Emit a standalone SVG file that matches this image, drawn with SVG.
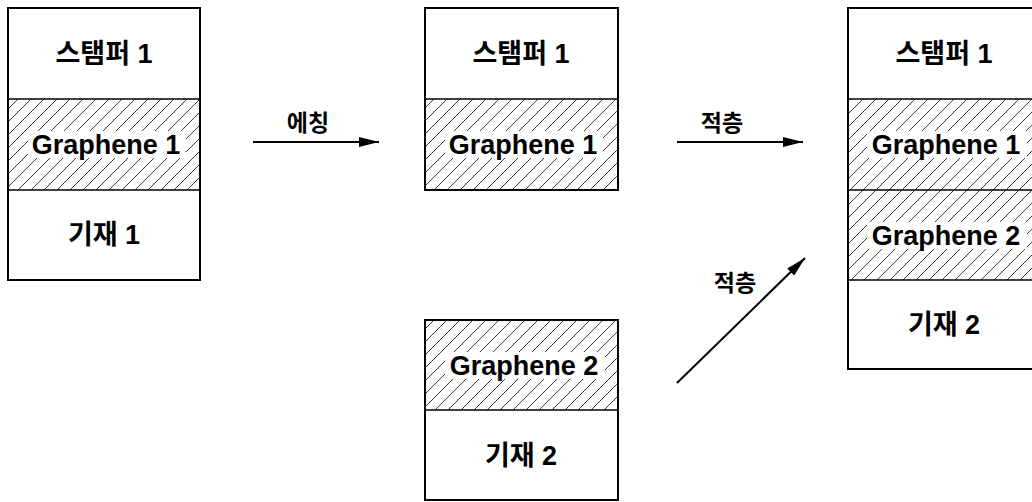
<svg xmlns="http://www.w3.org/2000/svg" width="1032" height="502" viewBox="0 0 1032 502">
<defs>
<pattern id="hatch" patternUnits="userSpaceOnUse" width="13" height="13">
<line x1="-1" y1="14" x2="14" y2="-1" stroke="#222" stroke-width="0.9"/>
</pattern>
<marker id="arr" viewBox="0 0 20 10" refX="20" refY="5" markerWidth="20" markerHeight="10" markerUnits="userSpaceOnUse" orient="auto">
<path d="M0,0 L20,5 L0,10 Z" fill="#000"/>
</marker>
</defs>
<style>
.box{fill:none;stroke:#000;stroke-width:2}
.div{stroke:#000;stroke-width:1.6}
.hatch{fill:url(#hatch);stroke:none}
.t{font-family:"Liberation Sans","Noto Sans CJK KR",sans-serif;font-weight:bold;font-size:27px;text-anchor:middle;fill:#000}
.lbl{font-family:"Liberation Sans","Noto Sans CJK KR",sans-serif;font-weight:bold;font-size:23px;text-anchor:middle;fill:#000}
.bg{fill:#fff}
.conn{stroke:#000;stroke-width:2;fill:none;marker-end:url(#arr)}
</style>
<rect width="1032" height="502" fill="#fff"/>

<g id="stack1">
<rect class="hatch" x="8" y="99" width="192" height="91"/>
<rect class="bg" x="28" y="131" width="158" height="27"/>
<line class="div" x1="8" y1="99" x2="200" y2="99"/>
<line class="div" x1="8" y1="190" x2="200" y2="190"/>
<rect class="box" x="8" y="8" width="192" height="272"/>
<text class="t" x="104" y="63">스탬퍼 1</text>
<text class="t" x="106" y="154">Graphene 1</text>
<text class="t" x="104" y="244">기재 1</text>
</g>

<g id="stack2">
<rect class="hatch" x="425" y="99" width="193" height="91"/>
<rect class="bg" x="445" y="131" width="158" height="27"/>
<line class="div" x1="425" y1="99" x2="618" y2="99"/>
<rect class="box" x="425" y="8" width="193" height="182"/>
<text class="t" x="521" y="63">스탬퍼 1</text>
<text class="t" x="523" y="154">Graphene 1</text>
</g>

<g id="stack3">
<rect class="hatch" x="425" y="320" width="193" height="90"/>
<rect class="bg" x="445" y="352" width="160" height="27"/>
<line class="div" x1="425" y1="410" x2="618" y2="410"/>
<rect class="box" x="425" y="320" width="193" height="180"/>
<text class="t" x="524" y="375">Graphene 2</text>
<text class="t" x="521" y="465">기재 2</text>
</g>

<g id="stack4">
<rect class="hatch" x="848" y="99" width="192" height="181"/>
<rect class="bg" x="867" y="131" width="160" height="27"/>
<rect class="bg" x="867" y="222" width="160" height="27"/>
<line class="div" x1="848" y1="99" x2="1040" y2="99"/>
<line class="div" x1="848" y1="190" x2="1040" y2="190"/>
<line class="div" x1="848" y1="280" x2="1040" y2="280"/>
<rect class="box" x="848" y="8" width="192" height="361"/>
<text class="t" x="944" y="63">스탬퍼 1</text>
<text class="t" x="946" y="154">Graphene 1</text>
<text class="t" x="946" y="245">Graphene 2</text>
<text class="t" x="944" y="334">기재 2</text>
</g>

<g id="connectors">
<line class="conn" x1="253" y1="142" x2="379" y2="142"/>
<text class="lbl" x="308" y="131">에칭</text>
<line class="conn" x1="677" y1="142" x2="803" y2="142"/>
<text class="lbl" x="722" y="131">적층</text>
<line class="conn" x1="677" y1="383" x2="805" y2="258"/>
<text class="lbl" x="735" y="291">적층</text>
</g>
</svg>
